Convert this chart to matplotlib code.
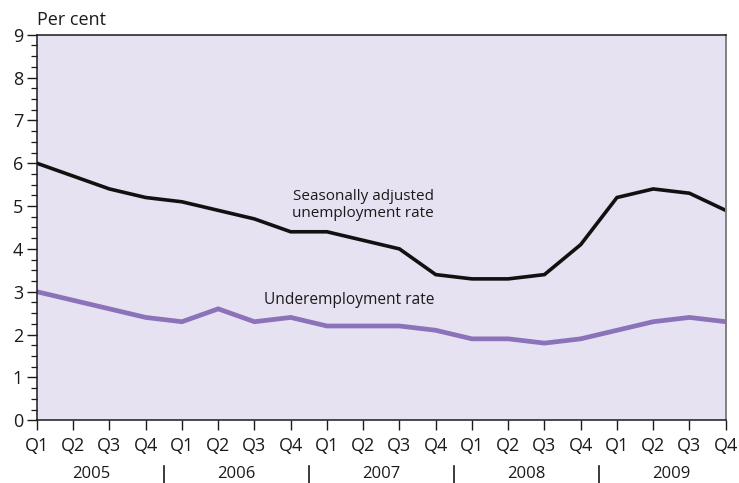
import matplotlib
matplotlib.use("Agg")
import matplotlib.pyplot as plt
from matplotlib.ticker import MultipleLocator

plt.rcParams["font.family"] = ["Open Sans", "DejaVu Sans"]

# ---------------------------------------------------------------------------
# Data (quarterly, 2005 Q1 - 2009 Q4)
# ---------------------------------------------------------------------------
years = ["2005", "2006", "2007", "2008", "2009"]
quarters = ["Q1", "Q2", "Q3", "Q4"]
quarter_labels = [q for _ in years for q in quarters]

unemployment = [6.0, 5.7, 5.4, 5.2, 5.1, 4.9, 4.7, 4.4, 4.4, 4.2,
                4.0, 3.4, 3.3, 3.3, 3.4, 4.1, 5.2, 5.4, 5.3, 4.9]
underemployment = [3.0, 2.8, 2.6, 2.4, 2.3, 2.6, 2.3, 2.4, 2.2, 2.2,
                   2.2, 2.1, 1.9, 1.9, 1.8, 1.9, 2.1, 2.3, 2.4, 2.3]

BG = "#e6e2f1"
PURPLE = "#8b72b9"
TEXT = "#1a1a1a"


def main() -> None:
    fig = plt.figure(figsize=(7.39, 4.83), dpi=100)
    ax = fig.add_axes([0.050, 0.130, 0.932, 0.798])
    ax.set_facecolor(BG)

    x = list(range(len(quarter_labels)))
    ax.plot(x, unemployment, color="#111111", linewidth=2.6, solid_joinstyle="miter")
    ax.plot(x, underemployment, color=PURPLE, linewidth=3.4, solid_joinstyle="miter")

    ax.set_xlim(0, len(x) - 1)
    ax.set_ylim(0, 9)
    ax.yaxis.set_major_locator(MultipleLocator(1))
    ax.yaxis.set_minor_locator(MultipleLocator(0.25))
    ax.set_xticks(x)
    ax.set_xticklabels(quarter_labels)

    ax.tick_params(axis="y", which="major", length=7, width=1, labelsize=13,
                   colors=TEXT, pad=3)
    ax.tick_params(axis="y", which="minor", length=4, width=0.9, colors=TEXT)
    ax.tick_params(axis="x", which="major", length=7, width=1, labelsize=13,
                   colors=TEXT, pad=5)

    for side in ("left", "top", "bottom"):
        ax.spines[side].set_color(TEXT)
        ax.spines[side].set_linewidth(1.1)
    ax.spines["right"].set_color("#808080")
    ax.spines["right"].set_linewidth(1.4)

    # Year labels and separators under the quarter labels
    for i, yr in enumerate(years):
        ax.text(i * 4 + 1.5, -0.14, yr, transform=ax.get_xaxis_transform(),
                ha="center", va="center", fontsize=12, color=TEXT)
        if i > 0:
            ax.plot([i * 4 - 0.5, i * 4 - 0.5], [-0.12, -0.17],
                    transform=ax.get_xaxis_transform(), color=TEXT,
                    linewidth=1.2, clip_on=False)

    fig.text(0.050, 0.958, "Per cent", ha="left", va="center",
             fontsize=13, color=TEXT)

    ax.text(9.0, 5.02, "Seasonally adjusted\nunemployment rate", ha="center",
            va="center", fontsize=11, color=TEXT, linespacing=1.2)
    ax.text(8.6, 2.8, "Underemployment rate", ha="center", va="center",
            fontsize=11.2, color=TEXT)

    fig.savefig("out.png", dpi=100)


if __name__ == "__main__":
    main()
